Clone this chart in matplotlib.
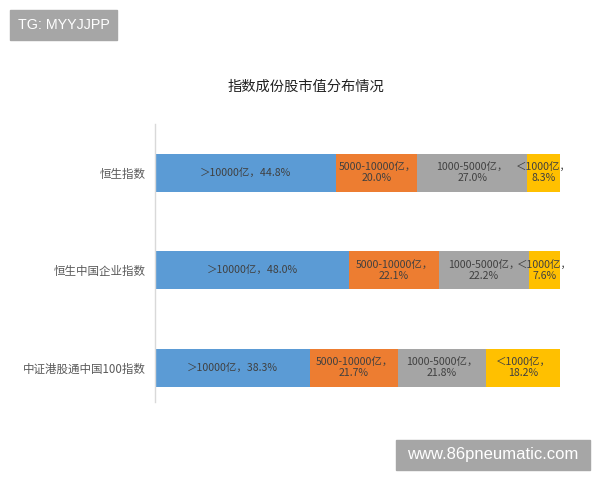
import numpy as np
import matplotlib
matplotlib.use("Agg")
import matplotlib.pyplot as plt
from matplotlib.patches import Rectangle

plt.rcParams['font.family'] = ['Noto Sans CJK SC', 'DejaVu Sans']

# data
categories = ["恒生指数", "恒生中国企业指数", "中证港股通中国100指数"]
segments = ["＞10000亿", "5000-10000亿", "1000-5000亿", "＜1000亿"]
big = [44.8, 48.0, 38.3]
mid = [20.0, 22.1, 21.7]
small = [27.0, 22.2, 21.8]
tiny = [8.3, 7.6, 18.2]
colors = ["#5B9BD5", "#ED7D31", "#A5A5A5", "#FFC000"]

series = [big, mid, small, tiny]

fig = plt.figure(figsize=(6, 4.8), dpi=100)
ax = fig.add_axes([155/600, 1-402/480, 405/600, 278/480])

y = np.arange(len(categories))
left = np.zeros(len(categories))
for i, vals in enumerate(series):
    vals = np.array(vals)
    ax.barh(y, vals, left=left, height=0.39, color=colors[i], edgecolor="none")
    for j in range(len(categories)):
        # single line label only for the wide blue segment
        if i == 0:
            txt = "%s，%.1f%%" % (segments[i], vals[j])
        else:
            txt = "%s，\n%.1f%%" % (segments[i], vals[j])
        ax.text(left[j] + vals[j]/2, y[j], txt, ha="center", va="center",
                fontsize=7.6, color="#404040", linespacing=1.15)
    left += vals

ax.set_xlim(0, 100)
ax.set_ylim(2.35, -0.5)
ax.set_yticks(y)
ax.set_yticklabels(categories, fontsize=8.3, color="#595959")
ax.tick_params(axis="y", length=0, pad=7)
ax.set_xticks([])
for s in ["top", "right", "bottom"]:
    ax.spines[s].set_visible(False)
ax.spines["left"].set_color("#D9D9D9")
ax.spines["left"].set_linewidth(1)

fig.text(306/600, 1-87/480, "指数成份股市值分布情况", ha="center", va="center",
         fontsize=10.3, color="#222222")

# watermark boxes
fig.patches.append(Rectangle((10/600, 1-40/480), 107/600, 30/480,
                             transform=fig.transFigure, color="#A6A6A6", zorder=5))
fig.text(63.5/600, 1-25/480, "TG: MYYJJPP", ha="center", va="center",
         fontsize=10.3, color="white", family="Liberation Sans", zorder=6)
fig.patches.append(Rectangle((396/600, 1-470/480), 194/600, 30/480,
                             transform=fig.transFigure, color="#A6A6A6", zorder=5))
fig.text(493/600, 1-455/480, "www.86pneumatic.com", ha="center", va="center",
         fontsize=12, color="white", family="Liberation Sans", zorder=6)

fig.savefig("out.png", dpi=100)
